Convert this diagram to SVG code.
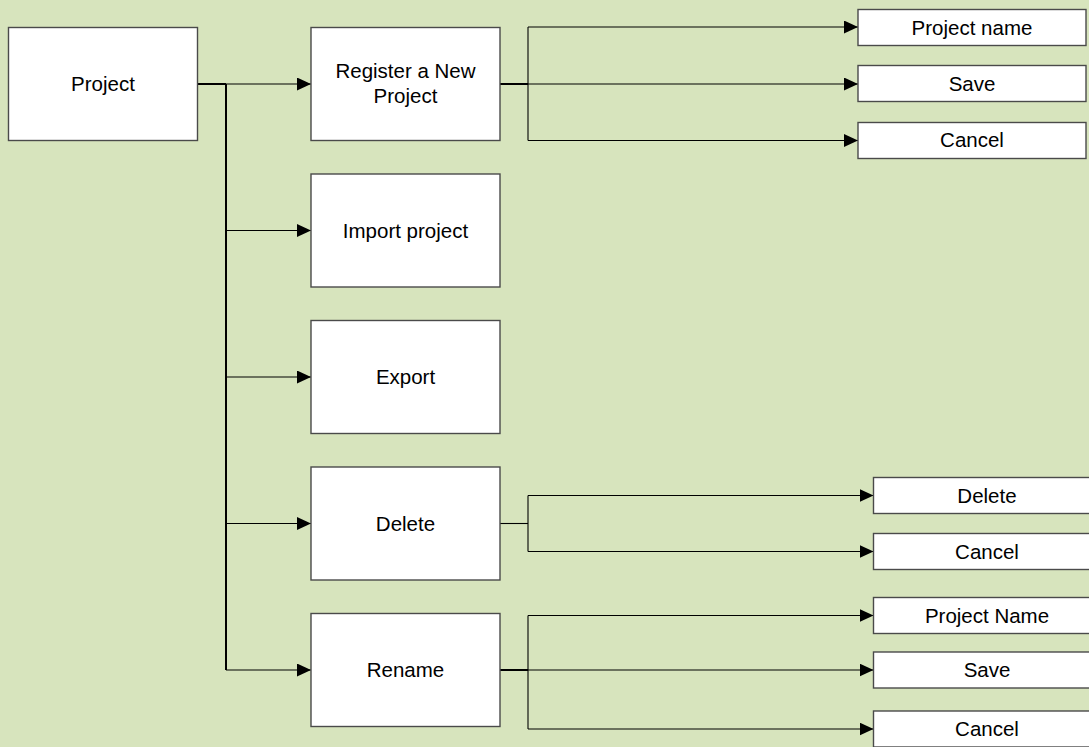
<svg xmlns="http://www.w3.org/2000/svg" width="1089" height="747" viewBox="0 0 1089 747">
<style>
.box{fill:#ffffff;stroke:#4a4a4a;stroke-width:1.4}
.lbl{font-family:"Liberation Sans",Arial,sans-serif;font-size:20.5px;fill:#000;text-anchor:middle}
.ln{fill:none;stroke:#000;stroke-width:1.1}
.tk{fill:none;stroke:#000;stroke-width:2}
</style>
<defs>
<marker id="ah" markerUnits="userSpaceOnUse" markerWidth="14" markerHeight="13" refX="14" refY="6.5" orient="auto">
<path d="M0,0 L14,6.5 L0,13 z" fill="#000"/>
</marker>
</defs>
<rect x="0" y="0" width="1089" height="747" fill="#d7e4bd"/>
<g id="connectors">
<path class="tk" d="M198,84 H226"/>
<path class="tk" d="M226,84 V670"/>
<path class="ln" d="M226,84 H311" marker-end="url(#ah)"/>
<path class="ln" d="M226,230.5 H311" marker-end="url(#ah)"/>
<path class="ln" d="M226,377 H311" marker-end="url(#ah)"/>
<path class="ln" d="M226,523.5 H311" marker-end="url(#ah)"/>
<path class="ln" d="M226,670 H311" marker-end="url(#ah)"/>
<path class="tk" d="M500,84 H528"/>
<path class="ln" d="M528,27 V140.5"/>
<path class="ln" d="M528,27 H858" marker-end="url(#ah)"/>
<path class="ln" d="M528,84 H858" marker-end="url(#ah)"/>
<path class="ln" d="M528,140.5 H858" marker-end="url(#ah)"/>
<path class="ln" d="M500,523.5 H528"/>
<path class="ln" d="M528,495.5 V551.5"/>
<path class="ln" d="M528,495.5 H873.5" marker-end="url(#ah)"/>
<path class="ln" d="M528,551.5 H873.5" marker-end="url(#ah)"/>
<path class="tk" d="M500,670 H528"/>
<path class="ln" d="M528,615.5 V729"/>
<path class="ln" d="M528,615.5 H873.5" marker-end="url(#ah)"/>
<path class="ln" d="M528,670 H873.5" marker-end="url(#ah)"/>
<path class="ln" d="M528,729 H873.5" marker-end="url(#ah)"/>
</g>
<g id="project"><rect class="box" x="8.5" y="27.5" width="189" height="113"/><text class="lbl" x="103" y="91">Project</text></g>
<g id="register"><rect class="box" x="311" y="27.5" width="189" height="113"/><text class="lbl" x="405.5" y="78">Register a New</text><text class="lbl" x="405.5" y="102.5">Project</text></g>
<g id="import"><rect class="box" x="311" y="174" width="189" height="113"/><text class="lbl" x="405.5" y="237.5">Import project</text></g>
<g id="export"><rect class="box" x="311" y="320.5" width="189" height="113"/><text class="lbl" x="405.5" y="384">Export</text></g>
<g id="delete"><rect class="box" x="311" y="467" width="189" height="113"/><text class="lbl" x="405.5" y="530.5">Delete</text></g>
<g id="rename"><rect class="box" x="311" y="613.5" width="189" height="113"/><text class="lbl" x="405.5" y="677">Rename</text></g>
<g id="reg-name"><rect class="box" x="858" y="9.5" width="228" height="36"/><text class="lbl" x="972" y="34.5">Project name</text></g>
<g id="reg-save"><rect class="box" x="858" y="65.5" width="228" height="36"/><text class="lbl" x="972" y="90.5">Save</text></g>
<g id="reg-cancel"><rect class="box" x="858" y="122.5" width="228" height="36"/><text class="lbl" x="972" y="147">Cancel</text></g>
<g id="del-delete"><rect class="box" x="873.5" y="477.5" width="228" height="36"/><text class="lbl" x="987" y="502.5">Delete</text></g>
<g id="del-cancel"><rect class="box" x="873.5" y="533.5" width="228" height="36"/><text class="lbl" x="987" y="558.5">Cancel</text></g>
<g id="ren-name"><rect class="box" x="873.5" y="597.5" width="228" height="36"/><text class="lbl" x="987" y="622.5">Project Name</text></g>
<g id="ren-save"><rect class="box" x="873.5" y="652" width="228" height="36"/><text class="lbl" x="987" y="677">Save</text></g>
<g id="ren-cancel"><rect class="box" x="873.5" y="711" width="228" height="36"/><text class="lbl" x="987" y="736">Cancel</text></g>
</svg>
